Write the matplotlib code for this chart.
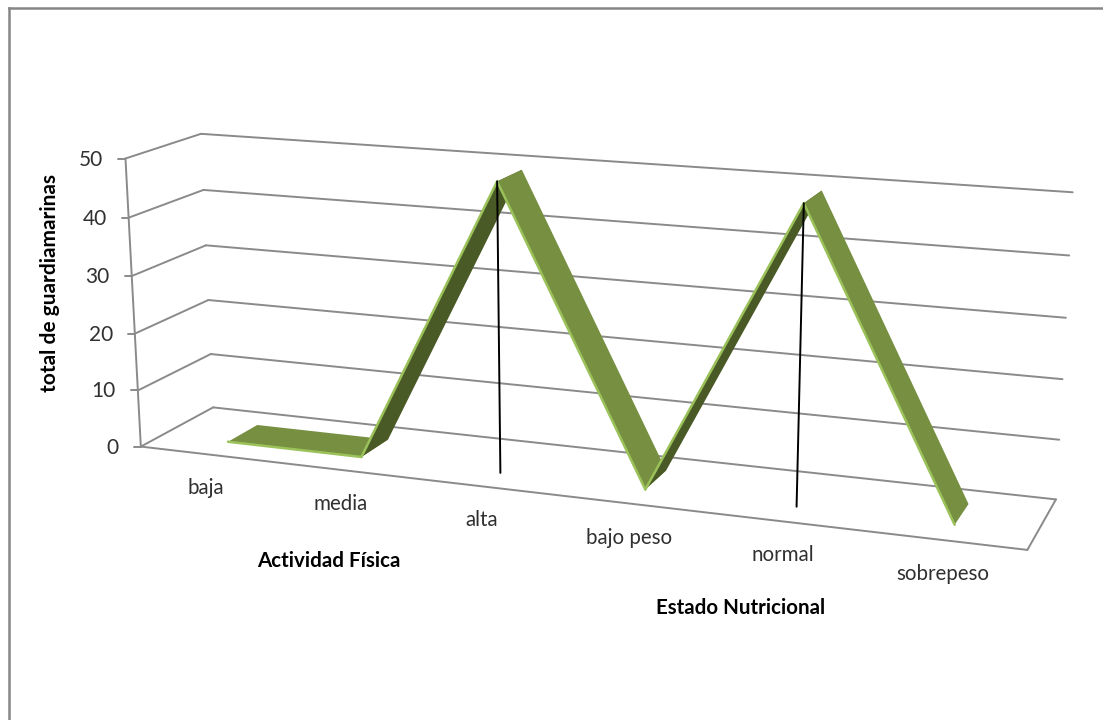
import numpy as np
import matplotlib
matplotlib.use("Agg")
import matplotlib.pyplot as plt
from matplotlib.patches import Polygon

categorias = ["baja", "media", "alta", "bajo peso", "normal", "sobrepeso"]
valores = [0, 0, 49, 0, 49, 0]
ticks_y = [0, 10, 20, 30, 40, 50]

plt.rcParams["font.family"] = ["Lato", "DejaVu Sans"]

GRIS = "#8a8a8a"
VERDE = "#768f40"
VERDE_CLARO = "#9bc25a"
VERDE_OSCURO = "#4a5a26"
TEXTO = "#303030"

# esquinas de la caja 3D (categoria, valor, profundidad) -> pixel
caja = [
    ((0, 0, 0), (140.7, 446.7)),
    ((0, 50, 0), (125.7, 158.3)),
    ((0, 0, 1), (213.3, 407.3)),
    ((0, 50, 1), (200.7, 134.0)),
    ((6, 0, 1), (1056.0, 499.3)),
    ((6, 50, 1), (1072.7, 192.3)),
    ((6, 0, 0), (1027.3, 550.0)),
]


def ajustar_camara(pares):
    filas = []
    for (x, y, z), (u, v) in pares:
        p = [x / 6, y / 50, z, 1]
        filas.append(p + [0, 0, 0, 0] + [-u * c for c in p])
        filas.append([0, 0, 0, 0] + p + [-v * c for c in p])
    return np.linalg.svd(np.array(filas))[2][-1].reshape(3, 4)


P = ajustar_camara(caja)


def proy(x, y, z):
    h = P @ np.array([x / 6, y / 50, z, 1])
    return h[0] / h[2], h[1] / h[2]


fig = plt.figure(figsize=(11.03, 7.2), dpi=100)
ax = fig.add_axes([0, 0, 1, 1])
ax.set_xlim(0, 1103)
ax.set_ylim(720, 0)
ax.axis("off")


def linea(a, b, **kw):
    ax.plot([a[0], b[0]], [a[1], b[1]], solid_capstyle="round", **kw)


# marco exterior
ax.plot([9, 9], [720, 8], color="#868686", lw=1.8)
ax.plot([9, 1103], [8, 8], color="#868686", lw=1.8)

# paredes y suelo
for t in ticks_y:
    linea(proy(0, t, 0), proy(0, t, 1), color=GRIS, lw=1.4)
    linea(proy(0, t, 1), proy(6, t, 1), color=GRIS, lw=1.4)
    fx, fy = proy(0, t, 0)
    linea((fx - 7, fy), (fx, fy), color=GRIS, lw=1.4)
    ax.text(fx - 22, fy + 1, str(t), ha="right", va="center", fontsize=15, color=TEXTO)
linea(proy(0, 0, 0), proy(0, 50, 0), color=GRIS, lw=1.4)
linea(proy(0, 0, 0), proy(6, 0, 0), color=GRIS, lw=1.4)
linea(proy(6, 0, 0), proy(6, 0, 1), color=GRIS, lw=1.4)

# cinta de la serie
z0, z1 = 0.30, 0.72
for i in range(len(valores) - 1):
    x_a, x_b = i + 0.5, i + 1.5
    v_a, v_b = valores[i], valores[i + 1]
    color = VERDE_OSCURO if v_b > v_a else VERDE
    ax.add_patch(Polygon([proy(x_a, v_a, z0), proy(x_b, v_b, z0),
                          proy(x_b, v_b, z1), proy(x_a, v_a, z1)],
                         closed=True, fc=color, ec="none", zorder=3))
    linea(proy(x_a, v_a, z0), proy(x_b, v_b, z0), color=VERDE_CLARO, lw=1.8, zorder=3)

# lineas de caida en los maximos
for i in [2, 4]:
    linea(proy(i + 0.5, valores[i], z0), proy(i + 0.5, 0, z0), color="black", lw=1.4, zorder=4)

# etiquetas de categoria
for i, c in enumerate(categorias):
    fx, fy = proy(i + 0.5, 0, 0)
    ax.text(fx - 1, fy + 34, c, ha="center", va="center", fontsize=14.8, color=TEXTO)

ax.text(329, 561, "Actividad Física", ha="center", va="center", fontsize=14.8, fontweight="bold", color="black")
ax.text(741, 608, "Estado Nutricional", ha="center", va="center", fontsize=14.8, fontweight="bold", color="black")
ax.text(50, 283, "total de guardiamarinas", rotation=90, ha="center", va="center",
        fontsize=15, fontweight="bold", color="black")

fig.savefig("out.png", dpi=100)
